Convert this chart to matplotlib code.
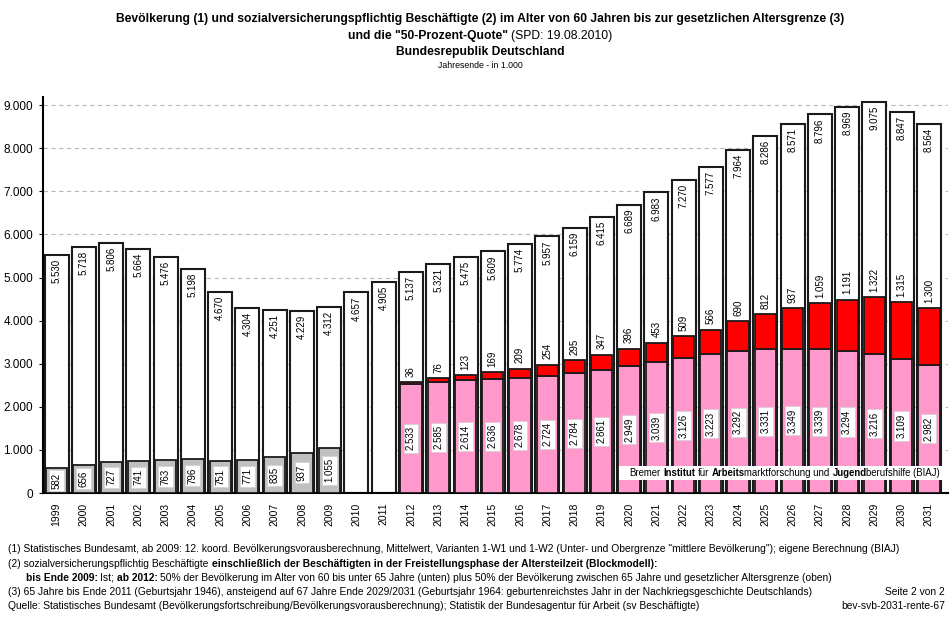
import matplotlib
matplotlib.use("Agg")
import matplotlib.pyplot as plt
from matplotlib.patches import Rectangle
from matplotlib.text import Annotation
from matplotlib.ticker import FuncFormatter

FONT = ["Liberation Sans", "DejaVu Sans"]
plt.rcParams["font.family"] = FONT

# Jahresende, in 1.000
years = list(range(1999, 2032))
population = [5530, 5718, 5806, 5664, 5476, 5198, 4670, 4304, 4251, 4229, 4312,
              4657, 4905, 5137, 5321, 5475, 5609, 5774, 5957, 6159, 6415, 6689,
              6983, 7270, 7577, 7964, 8286, 8571, 8796, 8969, 9075, 8847, 8564]
ist_years = list(range(1999, 2010))
employed_ist = [582, 656, 727, 741, 763, 796, 751, 771, 835, 937, 1055]
quote_years = list(range(2012, 2032))
quote_lower = [2533, 2585, 2614, 2636, 2678, 2724, 2784, 2861, 2949, 3039,
               3126, 3223, 3292, 3331, 3349, 3339, 3294, 3216, 3109, 2982]
quote_upper = [36, 76, 123, 169, 209, 254, 295, 347, 396, 453,
               509, 566, 690, 812, 937, 1059, 1191, 1322, 1315, 1300]


def de(v):
    return f"{v:,.0f}".replace(",", ".")


W, H = 950, 619
fig = plt.figure(figsize=(W / 100, H / 100), dpi=100)
ax = fig.add_axes([43 / W, 1 - 493 / H, (948 - 43) / W, (493 - 97) / H])

# outer bars (population)
ax.bar(years, population, width=0.88, color="white", edgecolor="#1a1a1a",
       linewidth=1.5, zorder=2)
# inner bars
ax.bar(ist_years, employed_ist, width=0.78, color="#c0c0c0", edgecolor="#1a1a1a",
       linewidth=1.3, zorder=3)
ax.bar(quote_years, quote_lower, width=0.78, color="#ff99cc", edgecolor="#1a1a1a",
       linewidth=1.3, zorder=3)
ax.bar(quote_years, quote_upper, bottom=quote_lower, width=0.78, color="#ff0000",
       edgecolor="#1a1a1a", linewidth=1.3, zorder=3)

lab = dict(rotation=90, fontsize=7, ha="center", zorder=5)
box = dict(boxstyle="square,pad=0.25", fc="white", ec="#d0d0d0", lw=0.5)
for x, v in zip(years, population):
    ax.annotate(de(v), (x, v), xytext=(0, -3), textcoords="offset points",
                va="top", **lab)
for x, v in zip(ist_years, employed_ist):
    ax.text(x, v / 2, de(v), va="center", bbox=box, **lab)
for x, lo, up in zip(quote_years, quote_lower, quote_upper):
    ax.text(x, lo / 2, de(lo), va="center", bbox=box, **lab)
    ax.annotate(de(up), (x, lo + up), xytext=(0, 4), textcoords="offset points",
                va="bottom", **lab)

ax.set_xlim(1998.5, 2031.7)
ax.set_ylim(0, 9190)
ax.set_yticks(range(0, 10000, 1000))
ax.yaxis.set_major_formatter(FuncFormatter(lambda v, p: de(v)))
ax.set_xticks(years)
ax.set_xticklabels([str(y) for y in years], rotation=90, fontsize=7.5)
ax.tick_params(axis="x", length=0, pad=7)
ax.tick_params(axis="y", length=3, labelsize=8.5, pad=4)
ax.yaxis.grid(True, ls=(0, (4, 3)), color="#b8b8b8", lw=0.8)
ax.set_axisbelow(True)
for s in ["top", "right"]:
    ax.spines[s].set_visible(False)
for s in ["left", "bottom"]:
    ax.spines[s].set_linewidth(1.5)

renderer = fig.canvas.get_renderer()


def rich_line(x, y, parts, size, ha="left"):
    # parts: (text, bold); each part is chained to the right end of the one before
    texts = []
    prev = None
    prev_bold = False
    for s, b in parts:
        lead = len(s) - len(s.lstrip(" "))
        w = "bold" if b else "normal"
        if prev is None:
            t = fig.text(x / W, 1 - y / H, s.strip(), fontsize=size, fontweight=w,
                         va="center", ha="left")
        else:
            gap = 0.278 * size * (lead + trail) + 0.05 * size
            if prev_bold:
                gap -= 0.12 * size  # bold extents come out a bit too wide
            t = Annotation(s.strip(), xy=(1, 0), xycoords=prev, xytext=(gap, 0),
                           textcoords="offset points", fontsize=size, fontweight=w,
                           va="bottom", ha="left")
            fig.add_artist(t)
        trail = len(s) - len(s.rstrip(" "))
        texts.append(t)
        prev = t
        prev_bold = b
    left = texts[0].get_window_extent(renderer).x0
    right = texts[-1].get_window_extent(renderer).x1
    total = right - left
    shift = {"left": 0, "center": total / 2, "right": total}[ha]
    texts[0].set_x((x - shift) / W)
    return x - shift, total


# title
rich_line(480, 19, [("Bevölkerung (1) und sozialversicherungspflichtig Beschäftigte (2) "
                     "im Alter von 60 Jahren bis zur gesetzlichen Altersgrenze (3)", True)],
          8.7, ha="center")
rich_line(480, 36, [('und die "50-Prozent-Quote" ', True), ("(SPD: 19.08.2010)", False)],
          8.7, ha="center")
rich_line(480, 52, [("Bundesrepublik Deutschland", True)], 8.7, ha="center")
rich_line(480, 66, [("Jahresende - in 1.000", False)], 6.3, ha="center")

# BIAJ box
x0, wbox = rich_line(940, 473, [("Bremer ", False), ("Institut ", True), ("für ", False),
                                ("Arbeits", True), ("marktforschung und ", False),
                                ("Jugend", True), ("berufshilfe (BIAJ)", False)],
                     6.9, ha="right")
fig.patches.append(Rectangle(((x0 - 10) / W, 1 - 480 / H), (wbox + 14) / W, 14 / H,
                             transform=fig.transFigure, fc="white", ec="none",
                             zorder=1))

# footnotes
fs = 7.35
rich_line(8, 549, [("(1) Statistisches Bundesamt, ab 2009: 12. koord. Bevölkerungsvorausberechnung, "
                    "Mittelwert, Varianten 1-W1 und 1-W2 (Unter- und Obergrenze \"mittlere "
                    "Bevölkerung\"); eigene Berechnung (BIAJ)", False)], fs)
rich_line(8, 564, [("(2) sozialversicherungspflichtig Beschäftigte ", False),
                   ("einschließlich der Beschäftigten in der Freistellungsphase der "
                    "Altersteilzeit (Blockmodell):", True)], fs)
rich_line(26, 578, [("bis Ende 2009: ", True), ("Ist; ", False), ("ab 2012: ", True),
                    ("50% der Bevölkerung im Alter von 60 bis unter 65 Jahre (unten) plus 50% "
                     "der Bevölkerung zwischen 65 Jahre und gesetzlicher Altersgrenze (oben)",
                     False)], fs)
rich_line(8, 592, [("(3) 65 Jahre bis Ende 2011 (Geburtsjahr 1946), ansteigend auf 67 Jahre "
                    "Ende 2029/2031 (Geburtsjahr 1964: geburtenreichstes Jahr in der "
                    "Nachkriegsgeschichte Deutschlands)", False)], fs)
rich_line(8, 606, [("Quelle: Statistisches Bundesamt (Bevölkerungsfortschreibung/"
                    "Bevölkerungsvorausberechnung); Statistik der Bundesagentur für Arbeit "
                    "(sv Beschäftigte)", False)], fs)
rich_line(945, 592, [("Seite 2 von 2", False)], fs, ha="right")
rich_line(945, 606, [("bev-svb-2031-rente-67", False)], fs, ha="right")

fig.savefig("out.png", dpi=100)
